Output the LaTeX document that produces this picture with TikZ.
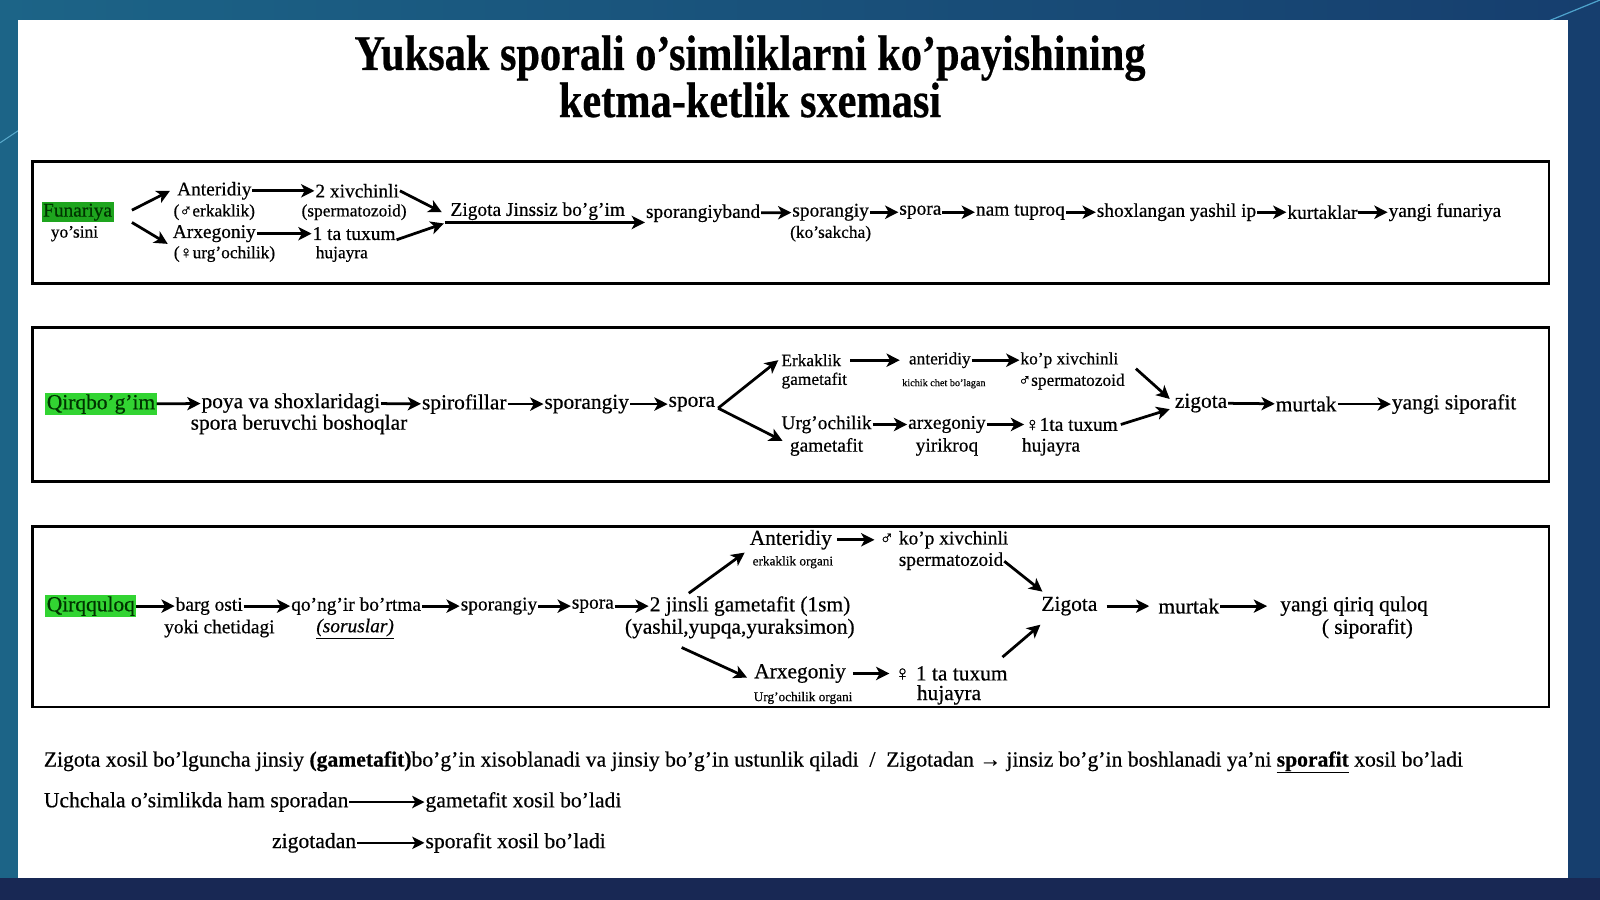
\documentclass[tikz,border=0pt]{standalone}
\usepackage{fontspec}
\setmainfont{Liberation Serif}[FakeBold=0.5]
\usetikzlibrary{arrows.meta,calc}
\definecolor{hl}{RGB}{50,212,50}
\definecolor{hlA}{RGB}{30,165,30}
\definecolor{bgA}{RGB}{28,100,135}
\definecolor{bgB}{RGB}{22,62,110}
\definecolor{bgC}{RGB}{24,40,84}
\begin{document}
\begin{tikzpicture}[x=1pt,y=-1pt,
  every node/.style={inner sep=1pt, outer sep=0pt},
  fA/.style={font=\fontsize{19}{21}\selectfont},
  fB/.style={font=\fontsize{21}{23}\selectfont},
  fN/.style={font=\fontsize{21.2}{23}\selectfont},
  fS/.style={font=\fontsize{17}{19}\selectfont},
  fT/.style={font=\fontsize{10}{12}\selectfont},
  fU/.style={font=\fontsize{13}{15}\selectfont},
  hlbox/.style={fill=hl, text=black!80!green, inner sep=1.5pt},
  arr/.style={-{Stealth[length=13pt,width=13pt,inset=3.5pt]}, line width=2.7pt},
  arrl/.style={-{Stealth[length=12pt,width=12pt,inset=3pt]}, line width=2.3pt},
  frame/.style={draw=black, line width=2.6pt}]
\useasboundingbox (0,0) rectangle (1568,882);
% background
\shade[left color=bgA, right color=bgB] (0,0) rectangle (1568,882);
\fill[bgC] (0,860) rectangle (1568,882);
\draw[cyan!60!white, line width=1.2pt, opacity=0.7] (1470,40) -- (1568,0);
\draw[cyan!50!white, line width=1pt, opacity=0.6] (0,140) -- (18,128);
\fill[white] (18,20) rectangle (1537,860);
% title
\node (t1) at (735,57) {\scalebox{1}[1.18]{\fontsize{41.5}{44}\selectfont\bfseries Yuksak sporali o’simliklarni ko’payishining}};
\node (t2) at (735,98) {\scalebox{1}[1.18]{\fontsize{41.5}{44}\selectfont\bfseries ketma-ketlik sxemasi}};
% frames
\draw[frame] (32,158) rectangle (1518,278);
\draw[frame] (32,321) rectangle (1518,472);
\draw[frame] (32,516) rectangle (1518,693);

% ---------- Row 1 ----------
\node[hlbox, fill=hlA, fA] (fun) at (76,208) {Funariya};
\node[fS] (yos) at (73,229) {yo’sini};
\node[fA] (ant) at (210,187) {Anteridiy};
\node[fS] (antb) at (210,208) {(♂erkaklik)};
\node[fA] (arx) at (210,229) {Arxegoniy};
\node[fS] (arxb) at (220,249) {(♀urg’ochilik)};
\node[fA] (xiv) at (350,187) {2 xivchinli};
\node[fS] (xivb) at (347,208) {(spermatozoid)};
\node[fA] (tux) at (347,229) {1 ta tuxum};
\node[fS] (tuxb) at (335,249) {hujayra};
\node[fA] (zig) at (527,207) {Zigota Jinssiz bo’g’im};
\coordinate (zs) at (436,218);
\node[fA] (spb) at (689,209) {sporangiyband};
\node[fA] (sg1) at (814,208) {sporangiy};
\node[fS] (sg1b) at (814,229) {(ko’sakcha)};
\node[fA] (sp1) at (902,208) {spora};
\node[fA] (nt1) at (1000,208) {nam tuproq};
\node[fA] (sh1) at (1153,208) {shoxlangan yashil ip};
\node[fA] (ku1) at (1296,208) {kurtaklar};
\node[fA] (yf1) at (1416,208) {yangi funariya};
\draw[arr] ([shift={(18,-2)}]fun.east) -- ([shift={(-6,0)}]ant.west);
\draw[arr] ([shift={(18,10)}]fun.east) -- ([shift={(-4,10)}]arx.west);
\draw[arr] (ant) -- (xiv);
\draw[arr] (arx) -- (tux);
\draw[arr] (xiv.east) -- ([shift={(-3,-10)}]zs);
\draw[arr] ([shift={(0,6)}]tux.east) -- ([shift={(-1,1)}]zs);
\draw[arr] (zs) -- (spb.west |- zs);
\draw[arr] (spb) -- (sg1);
\draw[arr] (sg1) -- (sp1);
\draw[arr] (sp1) -- (nt1);
\draw[arr] (nt1) -- (sh1);
\draw[arr] (sh1) -- (ku1);
\draw[arr] (ku1) -- (yf1);

% ---------- Row 2 ----------
\node[hlbox, fB] (qb) at (99,396) {Qirqbo’g’im};
\node[fB] (pv) at (285,395) {poya va shoxlaridagi};
\node[fB] (pvb) at (293,416) {spora beruvchi boshoqlar};
\node[fB] (sf2) at (455,396) {spirofillar};
\node[fB] (sg2) at (575,396) {sporangiy};
\node[fB] (sp2) at (678,396) {spora};
\node[fS] (ek2) at (795,353) {Erkaklik};
\node[fS] (ek2b) at (798,373) {gametafit};
\node[fS] (an2) at (921,353) {anteridiy};
\node[fT] (an2b) at (925,376) {kichik chet bo’lagan};
\node[fS] (kx2) at (1048,353) {ko’p xivchinli};
\node[fS] (kx2b) at (1050,374) {♂spermatozoid};
\node[fA] (ur2) at (810,416) {Urg’ochilik};
\node[fA] (ur2b) at (810,438) {gametafit};
\node[fA] (ar2) at (928,416) {arxegoniy};
\node[fA] (ar2b) at (928,438) {yirikroq};
\node[fA] (tx2) at (1050,416) {♀1ta tuxum};
\node[fA] (tx2b) at (1030,438) {hujayra};
\node[fB] (zg2) at (1177,395) {zigota};
\node[fB] (mt2) at (1280,396) {murtak};
\node[fB] (ys2) at (1425,396) {yangi siporafit};
\draw[arr] (qb) -- (pv);
\draw[arr] (pv) -- (sf2);
\draw[arr] (sf2) -- (sg2);
\draw[arr] (sg2) -- (sp2);
\draw[arr] ([shift={(2,4)}]sp2.east) -- ([shift={(-2,0)}]ek2.west);
\draw[arr] ([shift={(2,4)}]sp2.east) -- ([shift={(2,16)}]ur2.west);
\draw[arr] ([shift={(8,0)}]ek2.east) -- ([shift={(-8,0)}]an2.west);
\draw[arr] (an2) -- (kx2);
\draw[arr] (ur2) -- (ar2);
\draw[arr] (ar2) -- (tx2);
\draw[arr] ([shift={(10,-4)}]kx2b.north east) -- ([shift={(-4,-4)}]zg2.west);
\draw[arr] ([shift={(2,0)}]tx2.east) -- ([shift={(-4,6)}]zg2.west);
\draw[arr] (zg2) -- (mt2);
\draw[arr] (mt2) -- (ys2);

% ---------- Row 3 ----------
\node[hlbox, fB] (qq) at (89,594) {Qirqquloq};
\node[fA] (bo3) at (205,594) {barg osti};
\node[fA] (bo3b) at (215,616) {yoki chetidagi};
\node[fA] (qo3) at (349,594) {qo’ng’ir bo’rtma};
\node[fA] (qo3b) at (348,616) {\underline{\textit{(soruslar)}}};
\node[fA] (sg3) at (489,594) {sporangiy};
\node[fA] (sp3) at (581,594) {spora};
\node[fB] (gj3) at (735,594) {2 jinsli gametafit (1sm)};
\node[fB] (gj3b) at (725,616) {(yashil,yupqa,yuraksimon)};
\node[fB] (an3) at (775,529) {Anteridiy};
\node[fU] (an3b) at (777,551) {erkaklik organi};
\node[fA] (kx3) at (925,529) {♂ ko’p xivchinli};
\node[fA] (kx3b) at (932,550) {spermatozoid};
\node[fB] (ax3) at (784,660) {Arxegoniy};
\node[fU] (ax3b) at (787,684) {Urg’ochilik organi};
\node[fB] (tx3) at (932,660) {♀ 1 ta tuxum};
\node[fB] (tx3b) at (930,681) {hujayra};
\node[fB] (zg3) at (1048,594) {Zigota};
\node[fB] (mt3) at (1165,594) {murtak};
\node[fB] (yq3) at (1327,594) {yangi qiriq quloq};
\node[fB] (yq3b) at (1340,616) {( siporafit)};
\draw[arr] (qq) -- (bo3);
\draw[arr] (bo3) -- (qo3);
\draw[arr] (qo3) -- (sg3);
\draw[arr] (sg3) -- (sp3);
\draw[arr] (sp3) -- (gj3);
\draw[arr] ([shift={(-60,-2)}]gj3.north) -- ([shift={(-4,2)}]an3.south west);
\draw[arr] ([shift={(-57,8)}]gj3b.south) -- ([shift={(-6,4)}]ax3.west);
\draw[arr] ([shift={(4,0)}]an3.east) -- ([shift={(-4,0)}]kx3.west);
\draw[arr] ([shift={(6,0)}]ax3.east) -- ([shift={(-4,0)}]tx3.west);
\draw[arr] (kx3b.east) -- ([shift={(2,-4)}]zg3.north west);
\draw[arr] ([shift={(-6,-8)}]tx3.north east) -- ([shift={(0,8)}]zg3.south west);
\draw[arr] ([shift={(8,0)}]zg3.east) -- ([shift={(-8,0)}]mt3.west);
\draw[arr] (mt3) -- ([shift={(-12,0)}]yq3.west);

% ---------- Notes ----------
\node[fN, anchor=west] (n1) at (42,747) {Zigota xosil bo’lguncha jinsiy \textbf{(gametafit)}bo’g’in xisoblanadi va jinsiy bo’g’in ustunlik qiladi \ / \ Zigotadan → jinsiz bo’g’in boshlanadi ya’ni \underline{\textbf{sporafit}} xosil bo’ladi};
\node[fN, anchor=west] (n2) at (42,786) {Uchchala o’simlikda ham sporadan};
\node[fN, anchor=west] (n2b) at (416,786) {gametafit xosil bo’ladi};
\node[fN, anchor=east] (n3) at (350,826) {zigotadan};
\node[fN, anchor=west] (n3b) at (416,826) {sporafit xosil bo’ladi};
\draw[arrl] (n2) -- (n2b);
\draw[arrl] (n3) -- (n3b);
\end{tikzpicture}
\end{document}
